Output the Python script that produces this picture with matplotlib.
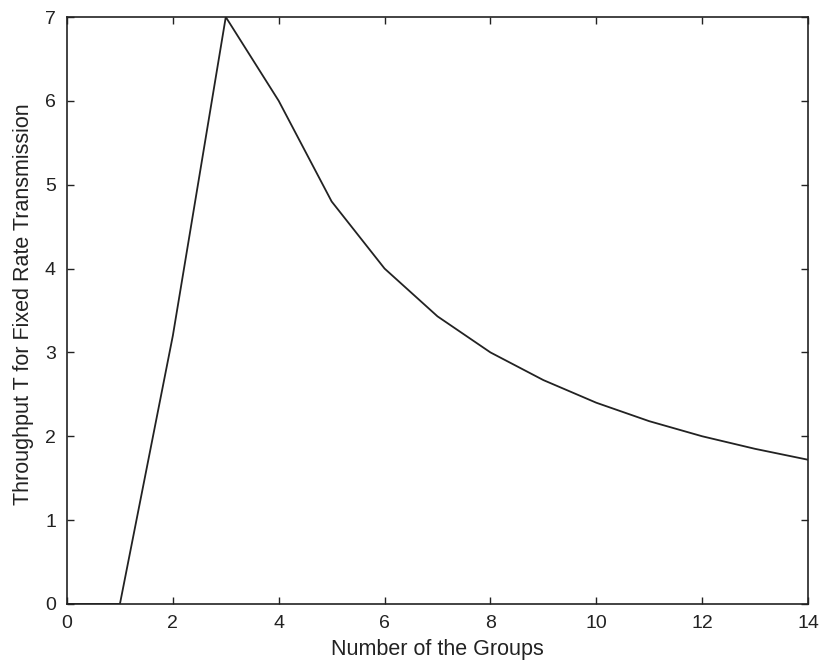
import matplotlib
matplotlib.use("Agg")
import matplotlib.pyplot as plt

groups = [0, 1, 2, 3, 4, 5, 6, 7, 8, 9, 10, 11, 12, 13, 14]
throughput = [0, 0, 3.2, 7.0, 6.0, 4.8, 4.0, 3.43, 3.0, 2.67, 2.4, 2.18, 2.0, 1.85, 1.72]
xticks = [0, 2, 4, 6, 8, 10, 12, 14]
yticks = [0, 1, 2, 3, 4, 5, 6, 7]

plt.rcParams['font.family'] = ['Liberation Sans', 'DejaVu Sans']
fig = plt.figure(figsize=(8.24, 6.67), dpi=100)
ax = fig.add_axes([0.0813, 0.0945, 0.8993, 0.88])
ax.plot(groups, throughput, color='#222222', linewidth=1.3)
ax.set_xlim(0, 14)
ax.set_ylim(0, 7)
ax.set_xticks(xticks)
ax.set_yticks(yticks)
ax.tick_params(direction='in', top=True, right=True, labelsize=14, length=5, width=1, pad=8, colors='#222222')
for s in ax.spines.values():
    s.set_linewidth(1.2)
    s.set_color('#222222')
ax.set_xlabel('Number of the Groups', fontsize=15.5, color='#222222', labelpad=5)
ax.set_ylabel('Throughput T for Fixed Rate Transmission', fontsize=15.5, color='#222222')
ax.yaxis.set_label_coords(-0.044, 0.51)
fig.savefig('out.png', dpi=100)
